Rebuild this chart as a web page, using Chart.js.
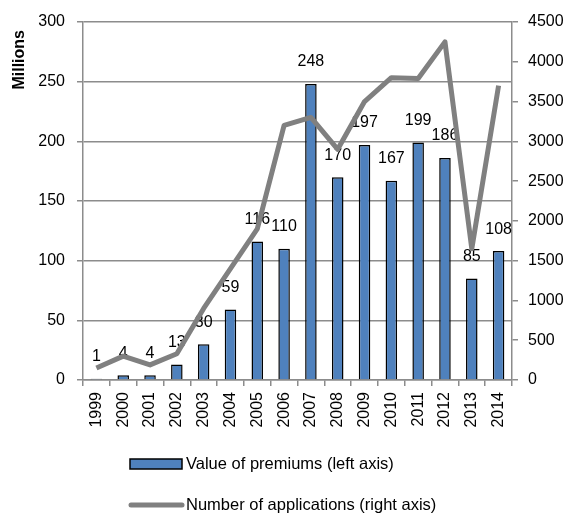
<!DOCTYPE html>
<html>
<head>
<meta charset="utf-8">
<script src="https://cdn.jsdelivr.net/npm/chart.js@4.4.1/dist/chart.umd.min.js"></script>
<style>body{margin:0;background:#fff}</style>
</head>
<body>
<canvas id="myChart" width="570" height="513"></canvas>
<script>
var anos = ["1999","2000","2001","2002","2003","2004","2005","2006","2007","2008","2009","2010","2011","2012","2013","2014"]
var premios = [1, 4, 4, 13, 30, 59, 116, 110, 248, 170, 197, 167, 199, 186, 85, 108]
var pedidos = [150, 300, 190, 330, 900, 1400, 1900, 3200, 3300, 2900, 3500, 3800, 3790, 4250, 1650, 3700]
var nomeBarras = "Value of premiums (left axis)"
var nomeLinha = "Number of applications (right axis)"
var tituloEsq = "Millions"

var fonte = "'Liberation Sans', Arial, sans-serif"
var tam = 16
var cinza = "#8c8c8c"

// rotulos em cima das barras (antes da linha ser desenhada)
var rotulos = {
  id: "rotulos",
  afterDatasetDraw: function (chart, args) {
    if (args.index !== 0) return
    var ctx = chart.ctx
    ctx.save()
    ctx.font = tam + "px " + fonte
    ctx.fillStyle = "#000"
    ctx.textAlign = "center"
    ctx.textBaseline = "middle"
    args.meta.data.forEach(function (bar, i) {
      ctx.fillText(premios[i], bar.x, bar.y - 22)
    })
    ctx.restore()
  }
}

// legenda empilhada embaixo + titulo do eixo esquerdo
var legenda = {
  id: "legenda",
  afterDraw: function (chart) {
    var ctx = chart.ctx
    ctx.save()
    ctx.fillStyle = "#4F81BD"
    ctx.fillRect(130, 459, 52, 10)
    ctx.strokeStyle = "#000"
    ctx.lineWidth = 1.5
    ctx.strokeRect(130, 459, 52, 10)
    ctx.strokeStyle = "#808080"
    ctx.lineWidth = 5
    ctx.lineCap = "round"
    ctx.beginPath()
    ctx.moveTo(131, 505)
    ctx.lineTo(182, 505)
    ctx.stroke()
    ctx.font = "16.5px " + fonte
    ctx.fillStyle = "#000"
    ctx.textBaseline = "middle"
    ctx.fillText(nomeBarras, 186, 464)
    ctx.fillText(nomeLinha, 186, 505)

    ctx.translate(20, 30)
    ctx.rotate(-Math.PI / 2)
    ctx.font = "bold 16px " + fonte
    ctx.textAlign = "right"
    ctx.fillText(tituloEsq, 0, 0)
    ctx.restore()
  }
}

var ctx = document.getElementById("myChart").getContext("2d")
var myChart = new Chart(ctx, {
  data: {
    labels: anos,
    datasets: [
      {
        type: "bar",
        label: nomeBarras,
        data: premios,
        backgroundColor: "#4F81BD",
        borderColor: "#000",
        borderWidth: 1.5,
        categoryPercentage: 1,
        barPercentage: 0.43,
        yAxisID: "y",
        order: 1
      },
      {
        type: "line",
        label: nomeLinha,
        data: pedidos,
        borderColor: "#808080",
        borderWidth: 5,
        pointRadius: 0,
        tension: 0,
        borderJoinStyle: "round",
        yAxisID: "y2",
        order: 0
      }
    ]
  },
  options: {
    responsive: false,
    animation: false,
    layout: { padding: { top: 22, left: 0, right: 0, bottom: 73 } },
    plugins: { legend: { display: false }, tooltip: { enabled: false } },
    scales: {
      x: {
        offset: true,
        grid: { display: true, offset: true, drawOnChartArea: false, color: cinza, tickLength: 6, lineWidth: 1.5 },
        border: { color: cinza, width: 1.5 },
        ticks: { minRotation: 90, maxRotation: 90, padding: 6, color: "#000", font: { size: tam, family: fonte } },
        afterFit: function (s) { s.height = 60 }
      },
      y: {
        position: "left",
        min: 0, max: 300,
        ticks: { stepSize: 50, padding: 12, color: "#000", font: { size: tam, family: fonte } },
        grid: { color: cinza, lineWidth: 1.5, tickLength: 6 },
        border: { color: cinza, width: 1.5 },
        afterFit: function (s) { s.width = 83 }
      },
      y2: {
        position: "right",
        min: 0, max: 4500,
        ticks: { stepSize: 500, padding: 10, color: "#000", font: { size: tam, family: fonte }, callback: function (v) { return String(v) } },
        grid: { drawOnChartArea: false, color: cinza, lineWidth: 1.5, tickLength: 6 },
        border: { color: cinza, width: 1.5 },
        afterFit: function (s) { s.width = 58 }
      }
    }
  },
  plugins: [rotulos, legenda]
})
</script>
</body>
</html>
